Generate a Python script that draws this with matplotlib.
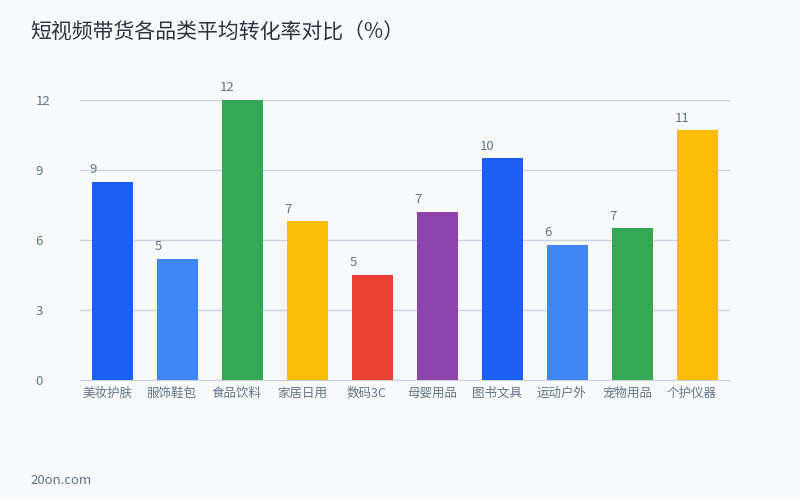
import math
import matplotlib
matplotlib.use("Agg")
import matplotlib.pyplot as plt
from matplotlib.transforms import ScaledTranslation

plt.rcParams['font.family'] = ['Noto Sans CJK SC', 'DejaVu Sans']

categories = ["美妆护肤", "服饰鞋包", "食品饮料", "家居日用", "数码3C",
              "母婴用品", "图书文具", "运动户外", "宠物用品", "个护仪器"]
rates = [8.5, 5.2, 12.0, 6.8, 4.5, 7.2, 9.5, 5.8, 6.5, 10.7]
bar_colors = ["#1c5ff5", "#4285f4", "#34a853", "#fbbc05", "#ea4335",
              "#8e44ad", "#1c5ff5", "#4285f4", "#34a853", "#fbbc05"]
yticks = [0, 3, 6, 9, 12]

bg = "#f8fafc"
text_col = "#64748b"

fig = plt.figure(figsize=(8, 5), dpi=100, facecolor=bg)
ax = fig.add_axes([0.1, 0.24, 0.8125, 0.56], facecolor=bg)

x = list(range(len(categories)))
bw = 0.63
ax.bar(x, rates, width=bw, color=bar_colors, zorder=3)

# value labels sit just left of each bar's top-left corner
for i, v in enumerate(rates):
    ax.annotate(f"{math.floor(v + 0.5)}", (i - bw / 2 - 0.04, v),
                xytext=(0, 4), textcoords="offset points",
                ha="left", va="bottom", fontsize=9.5, color=text_col)

ax.set_xlim(-0.5, len(categories) - 0.5)
ax.set_ylim(0, 12)
ax.set_yticks(yticks)
ax.set_yticklabels([str(t) for t in yticks])
ax.set_xticks(x)
ax.set_xticklabels(categories)

ax.grid(axis="y", color="#cbd3df", linewidth=1, zorder=0)
for s in ["top", "right", "left"]:
    ax.spines[s].set_visible(False)
ax.spines["bottom"].set_color("#cbd3df")

ax.tick_params(axis="y", length=0, pad=32, labelsize=9.5, labelcolor=text_col)
for lbl in ax.get_yticklabels():
    lbl.set_horizontalalignment("left")
ax.tick_params(axis="x", length=0, pad=5, labelsize=9, labelcolor=text_col)
shift = ScaledTranslation(-5.5 / 100, 0, fig.dpi_scale_trans)
for lbl in ax.get_xticklabels():
    lbl.set_transform(lbl.get_transform() + shift)

fig.text(0.038, 0.935, "短视频带货各品类平均转化率对比（%）", fontsize=15,
         color="#2d333b", ha="left", va="center")
fig.text(0.038, 0.04, "20on.com", fontsize=9.5, color=text_col,
         ha="left", va="center")

fig.savefig("out.png", dpi=100, facecolor=bg)
